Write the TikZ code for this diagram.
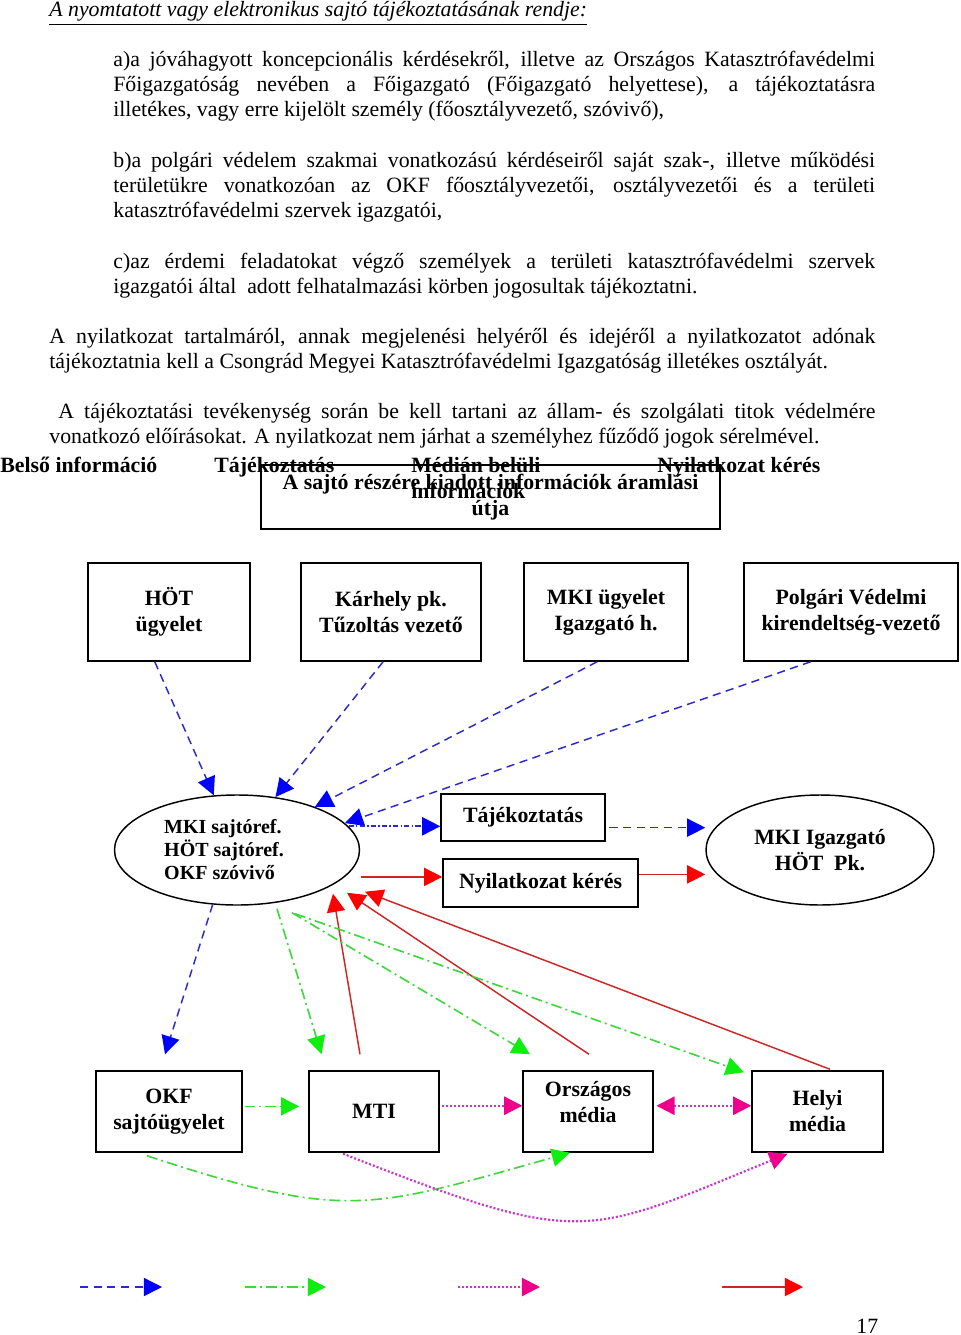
\documentclass[tikz,border=0pt]{standalone}
\usepackage{fontspec}
\setmainfont{Liberation Serif}
\usetikzlibrary{arrows.meta, positioning, shapes.geometric, calc}
\definecolor{kek}{HTML}{2A2ACC}
\definecolor{zold}{HTML}{3ED83E}
\definecolor{zoldhegy}{HTML}{10EE10}
\definecolor{lila}{HTML}{CC33CC}
\definecolor{piros}{HTML}{CC2626}
\newcommand{\szoveg}{\fontsize{12}{13.75}\selectfont}
\newcommand{\cimke}{\bfseries\fontsize{12}{14.3}\selectfont}

\begin{document}
\begin{tikzpicture}[x=0.55pt, y=-0.55pt,
    para/.style={anchor=base west, inner sep=0pt, align=justify, font=\szoveg},
    fejlec/.style={anchor=base west, inner sep=0pt, font=\cimke},
    box/.style={draw, line width=0.8pt, inner sep=0pt, align=center, font=\cimke},
    felso/.style={box, minimum height=53.9pt},
    also/.style={box, minimum height=44.55pt},
    oval/.style={draw, ellipse, line width=0.8pt, inner sep=0pt, align=center, font=\cimke},
    bluedash/.style={draw=kek, line width=0.8pt, dash pattern=on 4.5pt off 3pt,
                     -{Triangle[length=10pt, width=10pt, color=blue]}},
    bluedashdot/.style={draw=kek, line width=1.1pt, dash pattern=on 3pt off 1.2pt on 0.7pt off 1.2pt,
                     -{Triangle[length=10pt, width=10pt, color=blue]}},
    greendd/.style={draw=zold, line width=0.9pt, dash pattern=on 6pt off 2.2pt on 1.1pt off 2.2pt,
                     -{Triangle[length=10pt, width=10pt, color=zoldhegy]}},
    magdot/.style={draw=lila, line width=1.2pt, dash pattern=on 1.1pt off 1.1pt,
                     -{Triangle[length=10pt, width=10pt, color=magenta]}},
    redline/.style={draw=piros, line width=0.8pt,
                     -{Triangle[length=10pt, width=10pt, color=red]}}
  ]
  \useasboundingbox (0,0) rectangle (960,1335);
  \fill[white] (0,0) rectangle (960,1335);

  % szoveg
  \node[anchor=base west, inner sep=0pt, font=\szoveg] (cimsor) at (49,17)
    {\underline{\textit{A nyomtatott vagy elektronikus sajtó tájékoztatásának rendje:}}};
  \node[para, text width=419pt] (pa) at (113,67)
    {a)a jóváhagyott koncepcionális kérdésekről, illetve az Országos Katasztrófavédelmi\linebreak
     Főigazgatóság nevében a Főigazgató (Főigazgató helyettese), a tájékoztatásra\linebreak
     illetékes, vagy erre kijelölt személy (főosztályvezető, szóvivő),};
  \node[para, text width=419pt] (pb) at (113,167)
    {b)a polgári védelem szakmai vonatkozású kérdéseiről saját szak-, illetve működési\linebreak
     területükre vonatkozóan az OKF főosztályvezetői, osztályvezetői és a területi\linebreak
     katasztrófavédelmi szervek igazgatói,};
  \node[para, text width=419pt] (pc) at (113,268)
    {c)az érdemi feladatokat végző személyek a területi katasztrófavédelmi szervek\linebreak
     igazgatói által\ \ adott felhatalmazási körben jogosultak tájékoztatni.};
  \node[para, text width=454.3pt] (pd) at (49,343)
    {A nyilatkozat tartalmáról, annak megjelenési helyéről és idejéről a nyilatkozatot adónak\linebreak
     tájékoztatnia kell a Csongrád Megyei Katasztrófavédelmi Igazgatóság illetékes osztályát.};
  \node[para, text width=454.3pt] (pe) at (49,418)
    {\hspace*{5pt}A tájékoztatási tevékenység során be kell tartani az állam- és szolgálati titok védelmére\linebreak
     vonatkozó előírásokat. A nyilatkozat nem járhat a személyhez fűződő jogok sérelmével.};

  % jelmagyarazat feliratai
  \node[fejlec] (jbelso) at (0,472) {Belső információ};
  \node[fejlec] (jtajek) at (214,472) {Tájékoztatás};
  \node[fejlec, align=left] (jmedia) at (411,498) {Médián belüli\\információk};
  \node[fejlec] (jnyil) at (657,472) {Nyilatkozat kérés};
  \node[box, line width=0.9pt, minimum width=252.45pt, minimum height=35.2pt] (cim) at (490.5,497)
    {A sajtó részére kiadott információk áramlási\\útja};

  % felso sor
  \node[felso, minimum width=89.1pt] (hot) at (169,612) {HÖT\\ügyelet};
  \node[felso, minimum width=99pt] (karhely) at (391,612) {Kárhely pk.\\Tűzoltás vezető};
  \node[felso, minimum width=90.2pt] (mkiugy) at (606,612) {MKI ügyelet\\Igazgató h.};
  \node[felso, minimum width=117.7pt] (pv) at (851,612) {Polgári Védelmi\\kirendeltség-vezető};

  % kozepso sor
  \node[oval, minimum width=134.75pt, minimum height=60.5pt] (sref) at (237,850) {};
  \node[align=left, inner sep=0pt, font=\bfseries\fontsize{11}{12.65}\selectfont] (srefszoveg) at (224,850)
    {MKI sajtóref.\\HÖT sajtóref.\\OKF szóvivő};
  \node[box, minimum width=90.2pt, minimum height=25.85pt] (tajek) at (523,817.5) {Tájékoztatás};
  \node[box, minimum width=107.25pt, minimum height=26.4pt] (nyil) at (540.5,883) {Nyilatkozat kérés};
  \node[oval, minimum width=125.4pt, minimum height=60.5pt] (mkiig) at (820,850)
    {MKI Igazgató\\HÖT\ \ Pk.};

  % also sor
  \node[also, minimum width=80.3pt] (okf) at (169,1111.5) {OKF\\sajtóügyelet};
  \node[also, minimum width=71.5pt] (mti) at (374,1111.5) {MTI};
  \node[also, minimum width=71.5pt, text depth=11pt] (orsz) at (588,1111.5) {Országos\\média};
  \node[also, minimum width=72.05pt] (helyi) at (817.5,1111.5) {Helyi\\média};

  % belso informacio
  \draw[bluedash] (hot.-106) -- (sref.113);
  \draw[bluedash] (karhely.-99) -- (sref.54);
  \draw[bluedash] (mkiugy.-100) -- (sref.29);
  \draw[bluedash] (pv.-129) -- (sref.14);
  \draw[bluedash] (sref.-114) -- ($(okf.north)+(-4,-16)$);
  \draw[bluedash, shorten <=2pt] (tajek.-7) -- (tajek.-7 -| mkiig.west);
  \draw[bluedashdot] (sref.12) -- (sref.12 -| tajek.west);

  % nyilatkozat keres
  \draw[redline, shorten <=9pt] (sref.-14) -- (sref.-14 -| nyil.west);
  \draw[redline] (nyil.5) -- (nyil.5 -| mkiig.west);
  \draw[redline] ($(mti.north)+(-14,-16)$) -- ($(sref.south)+(96,-12)$);
  \draw[redline] ($(orsz.north)+(1,-16)$) -- ($(sref.south)+(110,-13)$);
  \draw[redline] ($(helyi.north)+(12.5,-1)$) -- ($(sref.south)+(128,-14)$);

  % tajekoztatas
  \draw[greendd] ($(sref.south)+(40,3)$) -- ($(mti.north)+(-52.5,-16)$);
  \draw[greendd] ($(sref.south)+(55,7)$) -- ($(orsz.north)+(-58,-16)$);
  \draw[greendd] ($(sref.south)+(58,8)$) -- ($(helyi.north)+(-73.5,2)$);
  \draw[greendd, shorten <=1pt, shorten >=5pt] (okf.4) -- (okf.4 -| mti.west);
  \draw[greendd] ($(okf.south)+(-22,3)$) .. controls +(200,66) and +(-200,56) .. ($(orsz.south)+(-18,0)$);

  % median beluli informaciok
  \draw[magdot, shorten <=1.5pt] (mti.5) -- (mti.5 -| orsz.west);
  \draw[magdot, {Triangle[length=10pt, width=10pt, color=magenta]}-{Triangle[length=10pt, width=10pt, color=magenta]},
        shorten <=1.5pt] (orsz.5) -- (orsz.5 -| helyi.west);
  \draw[magdot] ($(mti.south)+(-31,1)$) .. controls +(240,94) and +(-205,84) .. ($(helyi.south)+(-30,1)$);

  % jelmagyarazat nyilai
  \coordinate (lkek) at (80,1287);
  \coordinate (lzold) at (245,1287);
  \coordinate (llila) at (458,1287);
  \coordinate (lpiros) at (722,1287);
  \draw[bluedash] (lkek) -- ++(82,0);
  \draw[greendd] (lzold) -- ++(81,0);
  \draw[magdot] (llila) -- ++(82,0);
  \draw[redline] (lpiros) -- ++(81,0);

  \node[anchor=base west, inner sep=0pt, font=\szoveg] (oldal) at (856,1333) {17};
\end{tikzpicture}
\end{document}
